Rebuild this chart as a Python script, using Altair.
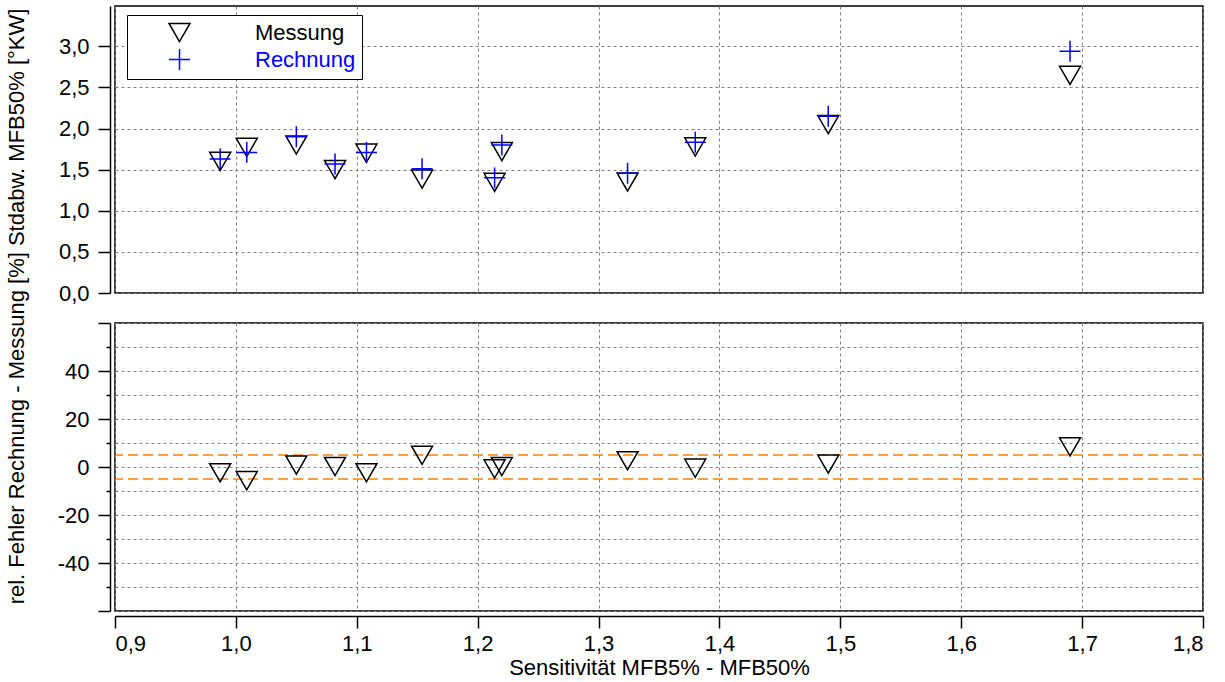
import altair as alt
import pandas as pd

# ---- data ----
x_sens = [0.987, 1.009, 1.050, 1.082, 1.108, 1.154, 1.214, 1.220, 1.324, 1.380, 1.490, 1.690]
messung = [1.60, 1.77, 1.80, 1.50, 1.70, 1.385, 1.345, 1.72, 1.35, 1.776, 2.047, 2.646]
rechnung = [1.63, 1.71, 1.90, 1.57, 1.71, 1.51, 1.40, 1.80, 1.455, 1.833, 2.15, 2.94]
rel_fehler = [-2.4, -5.7, 0.8, 0.2, -2.4, 4.9, -0.8, 0.2, 2.6, -0.5, 1.2, 8.4]
toleranz = [5, -5]

series_names = ["Messung", "Rechnung"]
x_ticks = [0.9, 1.0, 1.1, 1.2, 1.3, 1.4, 1.5, 1.6, 1.7, 1.8]
y_top_ticks = [0.0, 0.5, 1.0, 1.5, 2.0, 2.5, 3.0]
y_bot_ticks = [-60, -50, -40, -30, -20, -10, 0, 10, 20, 30, 40, 50, 60]

x_title = "Sensitivität MFB5% - MFB50%"
y_title = "rel. Fehler Rechnung - Messung [%] Stdabw. MFB50% [°KW]"

FONT = "Liberation Sans"
PLUS = "M-1,0L1,0M0,-1L0,1"

top_df = pd.DataFrame({
    "x": x_sens + x_sens,
    "y": messung + rechnung,
    "serie": [series_names[0]] * len(x_sens) + [series_names[1]] * len(x_sens),
})
bot_df = pd.DataFrame({"x": x_sens, "y": rel_fehler})
tol_df = pd.DataFrame({"y": toleranz})

xscale = alt.Scale(domain=[0.9, 1.8], nice=False, zero=False)
comma1 = "replace(format(datum.value, '.1f'), '.', ',')"

leg = alt.Legend(
    title=None, orient="none", legendX=12, legendY=9,
    strokeColor="black", fillColor="white", padding=6,
    symbolOffset=35, labelOffset=64, symbolSize=440, symbolStrokeWidth=1.5,
    labelFontSize=22, labelFont=FONT, rowPadding=1,
    labelColor=alt.ExprRef(expr="datum.value === 'Rechnung' ? '#0000ff' : '#000000'"),
)

top = alt.Chart(top_df).mark_point(
    filled=False, opacity=1, strokeWidth=1.5, size=440
).encode(
    x=alt.X("x:Q", scale=xscale,
            axis=alt.Axis(values=x_ticks, labels=False, ticks=False,
                          domain=False, title=None, grid=True)),
    y=alt.Y("y:Q", scale=alt.Scale(domain=[0, 3.49], nice=False, zero=False),
            axis=alt.Axis(values=y_top_ticks, labelExpr=comma1, title=None,
                          offset=5, tickSize=12, labelPadding=9, grid=True)),
    shape=alt.Shape("serie:N",
                    scale=alt.Scale(domain=series_names, range=["triangle-down", PLUS]),
                    legend=leg),
    color=alt.Color("serie:N",
                    scale=alt.Scale(domain=series_names, range=["#000000", "#0000ff"]),
                    legend=leg),
).properties(width=1088, height=287)

x_bot = alt.X("x:Q", scale=xscale,
              axis=alt.Axis(values=x_ticks, labelExpr=comma1, title=x_title,
                            offset=5, tickSize=12, labelPadding=5,
                            titlePadding=3, grid=True))
y_bot = alt.Y("y:Q", scale=alt.Scale(domain=[-60, 60], nice=False, zero=False),
              axis=alt.Axis(
                  values=y_bot_ticks,
                  labelExpr="(datum.value % 20 === 0 && abs(datum.value) < 60) ? '' + datum.value : ''",
                  tickSize={"condition": {"test": "datum.value % 20 === 0", "value": 12}, "value": 4},
                  offset=5, labelPadding=9, grid=True,
                  title=y_title, titleY=-17, titlePadding=29))

rules = alt.Chart(tol_df).mark_rule(
    color="#ff8000", strokeDash=[10, 5], strokeWidth=1.5
).encode(y=y_bot)

pts = alt.Chart(bot_df).mark_point(
    filled=False, opacity=1, strokeWidth=1.5, size=440,
    shape="triangle-down", color="black"
).encode(x=x_bot, y=y_bot)

bottom = alt.layer(rules, pts).properties(width=1088, height=288)

chart = alt.vconcat(
    top, bottom, spacing=30, bounds="flush",
    padding={"left": 4, "top": 5, "right": 5, "bottom": 5},
).configure(font=FONT).configure_axis(
    labelFontSize=22, titleFontSize=22, labelFont=FONT, titleFont=FONT,
    labelColor="black", titleColor="black", titleFontWeight="normal",
    domainColor="black", domainWidth=1.5, tickColor="black", tickWidth=1.5,
    gridColor="#808080", gridDash=[3, 3], gridWidth=1,
).configure_view(stroke="black", strokeWidth=1.5)

chart.save("out.html", embed_options={"renderer": "svg", "actions": False})
